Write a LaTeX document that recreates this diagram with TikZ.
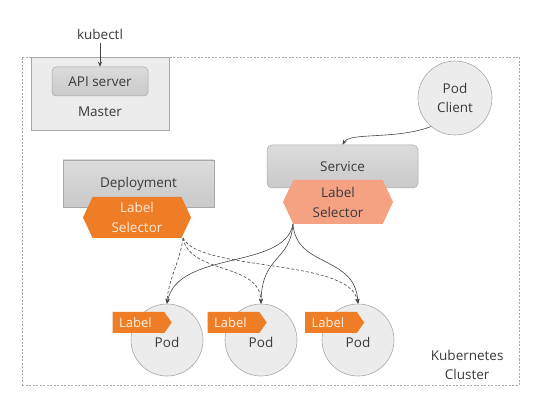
\documentclass[tikz,border=0pt]{standalone}
\usepackage{fontspec}
\setmainfont{Open Sans}
\usetikzlibrary{shapes.symbols,arrows.meta}
\definecolor{txt}{HTML}{3A3A3A}
\definecolor{lineg}{HTML}{A8A8A8}
\definecolor{podfill}{HTML}{ECECEC}
\definecolor{orangeL}{HTML}{EE7D26}
\definecolor{salmon}{HTML}{F5A283}
\definecolor{darkline}{HTML}{454545}
\tikzset{
  every node/.style={font=\fontsize{13.5}{16}\selectfont, text=txt, align=center},
  graybox/.style={draw=lineg, line width=0.5pt, top color=gray!28, bottom color=gray!42},
  podnode/.style={circle, draw=lineg, line width=0.6pt, fill=podfill, minimum size=72pt, inner sep=0pt},
  tag/.style={signal, signal to=east, signal pointer angle=110, fill=orangeL, text=white!90!orange,
     minimum width=59pt, minimum height=21pt, inner sep=0pt, font=\fontsize{13}{15}\selectfont},
  selhex/.style={signal, signal to=east and west, signal pointer angle=130, inner sep=0pt,
     minimum width=110pt, minimum height=44pt, font=\fontsize{13.5}{20}\selectfont},
  conn/.style={draw=darkline, line width=0.6pt, -{Stealth[length=5pt,width=4pt]}},
  dconn/.style={conn, dashed, dash pattern=on 3pt off 2pt}
}
\begin{document}
\begin{tikzpicture}[x=1pt,y=-1pt]
\useasboundingbox (0,0) rectangle (552,406);
% cluster
\node[draw=lineg, dashed, dash pattern=on 2pt off 1.5pt, line width=0.6pt, minimum width=497pt, minimum height=328pt, inner sep=0pt] (cluster) at (270.5,221) {};
\node[anchor=south east, align=center, font=\fontsize{13.5}{19}\selectfont] (clustertxt) at (507,383) {Kubernetes\\Cluster};
% master
\node[draw=lineg, fill=podfill, line width=0.6pt, minimum width=138pt, minimum height=73pt, inner sep=0pt] (master) at (100,93.5) {};
\node (mastertxt) at (100,112) {Master};
\node[graybox, rounded corners=4pt, minimum width=96pt, minimum height=29pt, inner sep=0pt] (api) at (100,81.5) {API server};
\node (kubectl) at (100,34) {kubectl};
\draw[conn] (kubectl.south) -- (api.north);
% pod client
\node[podnode, minimum size=74pt, font=\fontsize{13.5}{19}\selectfont] (client) at (455,98) {Pod\\Client};
% service
\node[graybox, rounded corners=5pt, minimum width=151pt, minimum height=43pt, inner sep=0pt] (service) at (342.5,166.5) {Service};
\node[selhex, fill=salmon] (sels) at (338,202) {Label\\Selector};
% deployment
\node[graybox, minimum width=151pt, minimum height=47pt, inner sep=0pt] (deploy) at (138.5,183.5) {Deployment};
\node[selhex, fill=orangeL, text=white!85!orange, minimum width=108pt, minimum height=41pt] (seld) at (137,217.5) {Label\\Selector};
% pods
\node[podnode] (pod1) at (167,340) {};
\node[podnode] (pod2) at (261,340) {};
\node[podnode] (pod3) at (358,340) {};
\node (pod1t) at (167,342) {Pod};
\node (pod2t) at (261,342) {Pod};
\node (pod3t) at (358,342) {Pod};
\node[tag] (tag1) at (138.5,322.5) {Label\hspace*{6pt}};
\node[tag] (tag2) at (233.5,322.5) {Label\hspace*{6pt}};
\node[tag] (tag3) at (331,322.5) {Label\hspace*{6pt}};
% connectors
\coordinate (ss) at (293,224);
\coordinate (sd) at (183,238);
\draw[conn] (client.230) .. controls (395,140) and (350,132) .. (service.north);
\draw[conn] (ss) .. controls (285,270) and (178,250) .. (pod1.north);
\draw[conn] (ss) .. controls (290,262) and (262,255) .. (pod2.north);
\draw[conn] (ss) .. controls (296,268) and (355,255) .. (pod3.north);
\draw[dconn] (sd) .. controls (180,262) and (168,280) .. (pod1.north);
\draw[dconn] (sd) .. controls (190,275) and (260,262) .. (pod2.north);
\draw[dconn] (sd) .. controls (200,272) and (350,258) .. (pod3.north);
\end{tikzpicture}
\end{document}
